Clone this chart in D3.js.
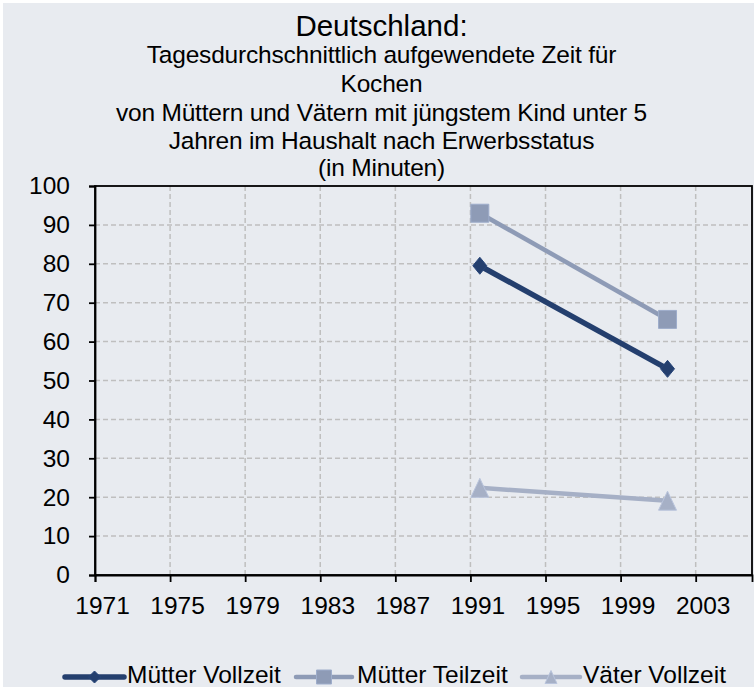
<!DOCTYPE html>
<html>
<head>
<meta charset="utf-8">
<script src="https://cdn.jsdelivr.net/npm/d3@7/dist/d3.min.js"></script>
<style>
  html, body { margin: 0; padding: 0; background: #ffffff; }
  svg { display: block; }
  text { font-family: "Liberation Sans", Arial, sans-serif; fill: #000; }
</style>
</head>
<body>
<svg id="chart" width="754" height="687"></svg>
<script>
// ---- data ----
const titleLines = [
  "Tagesdurchschnittlich aufgewendete Zeit für",
  "Kochen",
  "von Müttern und Vätern mit jüngstem Kind unter 5",
  "Jahren im Haushalt nach Erwerbsstatus",
  "(in Minuten)"
];
const mainTitle = "Deutschland:";
const years = [1991, 2001];
const muetterVollzeit = [79.5, 53.0];
const muetterTeilzeit = [93.0, 65.7];
const vaeterVollzeit = [22.4, 19.1];
const seriesNames = ["Mütter Vollzeit", "Mütter Teilzeit", "Väter Vollzeit"];
const xTickYears = [1971, 1975, 1979, 1983, 1987, 1991, 1995, 1999, 2003];
const yTicks = [0, 10, 20, 30, 40, 50, 60, 70, 80, 90, 100];

// ---- setup ----
const W = 754, H = 687;
const svg = d3.select("#chart");
const plot = { left: 95, right: 752, top: 186, bottom: 575 };

svg.append("rect").attr("x", 3).attr("y", 3).attr("width", W - 3).attr("height", H - 3)
  .attr("fill", "#E8EBF0");

const x = d3.scaleLinear().domain([1971, 2006]).range([plot.left, plot.right]);
const y = d3.scaleLinear().domain([0, 100]).range([plot.bottom, plot.top]);

// ---- titles ----
const cx = 381.5;
svg.append("text").attr("x", cx).attr("y", 36).attr("text-anchor", "middle")
  .style("font-size", "29.5px").text(mainTitle);
const lineY = [63, 92, 121, 149, 176];
titleLines.forEach((t, i) => {
  svg.append("text").attr("x", cx).attr("y", lineY[i]).attr("text-anchor", "middle")
    .style("font-size", "24.5px").style("letter-spacing", "-0.2px").text(t);
});

// ---- grid ----
const grid = svg.append("g");
grid.selectAll("line.h").data(yTicks.filter(v => v > 0 && v < 100)).enter().append("line")
  .attr("x1", plot.left).attr("x2", plot.right)
  .attr("y1", d => y(d)).attr("y2", d => y(d))
  .attr("stroke", "#BFBFBF").attr("stroke-width", 1.5).attr("stroke-dasharray", "5,3");
grid.selectAll("line.v").data(xTickYears.filter(v => v > 1971)).enter().append("line")
  .attr("x1", d => x(d)).attr("x2", d => x(d))
  .attr("y1", plot.top).attr("y2", plot.bottom)
  .attr("stroke", "#BFBFBF").attr("stroke-width", 1.5).attr("stroke-dasharray", "5,3");

// ---- frame ----
svg.append("rect").attr("x", plot.left).attr("y", plot.top)
  .attr("width", plot.right - plot.left).attr("height", plot.bottom - plot.top)
  .attr("fill", "none").attr("stroke", "#000").attr("stroke-width", 1.8);

// ---- axes ----
const yAxis = d3.axisLeft(y).tickValues(yTicks).tickSize(6).tickPadding(19);
const gy = svg.append("g").attr("transform", `translate(${plot.left},0)`).call(yAxis);
gy.select(".domain").attr("stroke", "#000").attr("stroke-width", 1.8);
gy.selectAll(".tick line").attr("stroke", "#000").attr("stroke-width", 1.8);
gy.selectAll(".tick text").style("font-size", "24.5px").attr("fill", "#000")
  .style("font-family", "'Liberation Sans', Arial, sans-serif");

const xAxis = d3.axisBottom(x).tickValues(xTickYears).tickSize(7).tickFormat(() => "");
const gx = svg.append("g").attr("transform", `translate(0,${plot.bottom})`).call(xAxis);
gx.select(".domain").attr("stroke", "#000").attr("stroke-width", 1.8);
gx.selectAll(".tick line").attr("stroke", "#000").attr("stroke-width", 1.8);

svg.append("g").selectAll("text").data(xTickYears).enter().append("text")
  .attr("x", d => x(d + 0.4)).attr("y", 614).attr("text-anchor", "middle")
  .style("font-size", "24.5px").text(d => String(d));

// ---- markers ----
function markerPath(type, w, h) {
  const a = w / 2, b = h / 2;
  if (type === "diamond") return `M0,${-b}L${a},0L0,${b}L${-a},0Z`;
  if (type === "square") return `M${-a},${-b}H${a}V${b}H${-a}Z`;
  return `M0,${-b}L${a},${b}L${-a},${b}Z`;
}

const series = [
  { name: seriesNames[0], values: muetterVollzeit, color: "#243F6E", width: 5.5, type: "diamond", mw: 14, mh: 17, lw: 12, lh: 12 },
  { name: seriesNames[1], values: muetterTeilzeit, color: "#8E9BB6", width: 4.5, type: "square", mw: 18, mh: 18, lw: 15, lh: 14 },
  { name: seriesNames[2], values: vaeterVollzeit, color: "#A6B0C6", width: 4.5, type: "triangle", mw: 18, mh: 19, lw: 12, lh: 13 }
];

const line = d3.line().x(d => x(d[0] + 0.5)).y(d => y(d[1]));
const order = [2, 1, 0];
order.forEach(i => {
  const s = series[i];
  const pts = years.map((yr, k) => [yr, s.values[k]]);
  svg.append("path").datum(pts).attr("d", line)
    .attr("fill", "none").attr("stroke", s.color).attr("stroke-width", s.width)
    .attr("stroke-linecap", "butt");
  svg.append("g").selectAll("path").data(pts).enter().append("path")
    .attr("transform", d => `translate(${x(d[0] + 0.5)},${y(d[1])})`)
    .attr("d", markerPath(s.type, s.mw, s.mh))
    .attr("fill", s.color).attr("stroke", d3.color(s.color).brighter(0.3)).attr("stroke-width", 1);
});

// ---- legend ----
const legendItems = [
  { x1: 65, x2: 124, tx: 127 },
  { x1: 296, x2: 352, tx: 357 },
  { x1: 522, x2: 580, tx: 583 }
];
const ly = 677;
series.forEach((s, i) => {
  const L = legendItems[i];
  const g = svg.append("g");
  g.append("line").attr("x1", L.x1).attr("x2", L.x2).attr("y1", ly).attr("y2", ly)
    .attr("stroke", s.color).attr("stroke-width", s.width).attr("stroke-linecap", "round");
  g.append("path").attr("transform", `translate(${(L.x1 + L.x2) / 2},${ly})`)
    .attr("d", markerPath(s.type, s.lw, s.lh))
    .attr("fill", s.color).attr("stroke", d3.color(s.color).brighter(0.3)).attr("stroke-width", 1);
  g.append("text").attr("x", L.tx).attr("y", 682.5).style("font-size", "24.5px").text(s.name);
});
</script>
</body>
</html>
